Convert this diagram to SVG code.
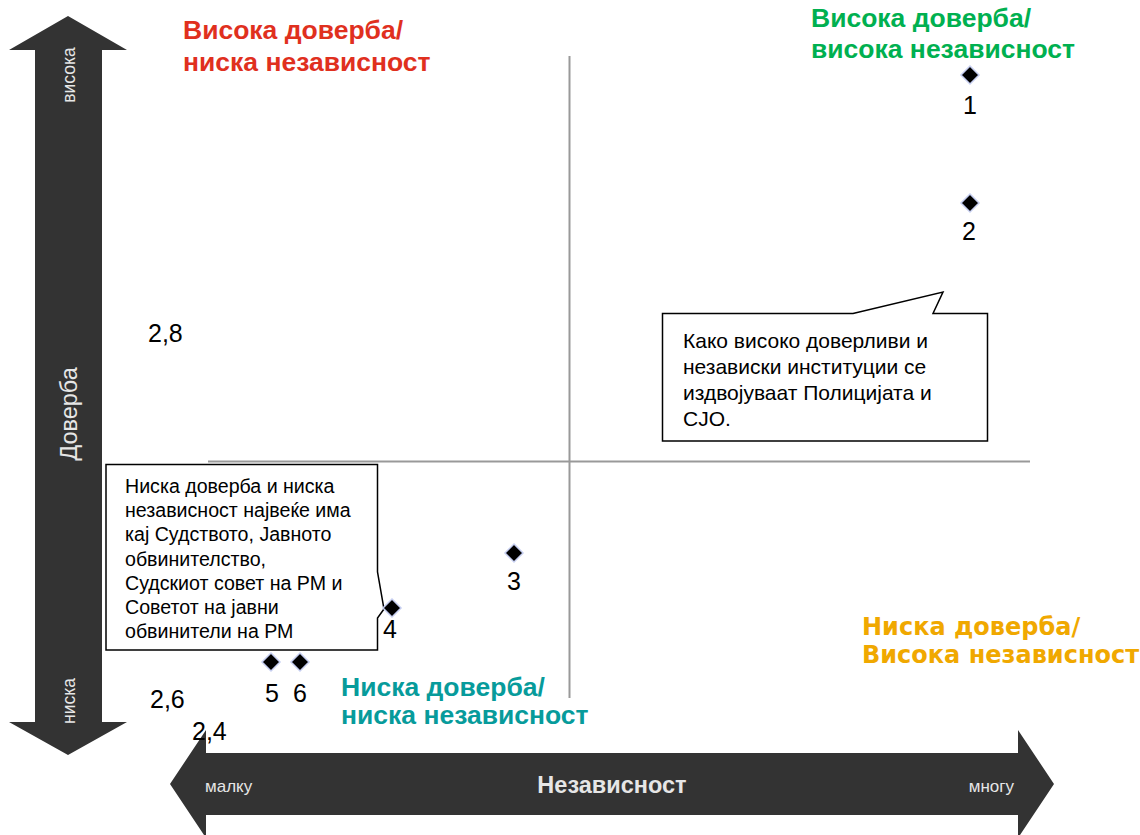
<svg xmlns="http://www.w3.org/2000/svg" width="1140" height="835" viewBox="0 0 1140 835">
<style>
.arrow{fill:#333333}
.axis{font-family:"Liberation Sans",Arial,sans-serif;fill:#e6e6e6}
.q{font-family:"Liberation Sans",Arial,sans-serif;font-weight:bold;font-size:26.5px}
.qo{font-family:"DejaVu Sans",Verdana,sans-serif;font-weight:bold;font-size:24px;fill:#f0a800}
.num{font-family:"Liberation Sans",Arial,sans-serif;font-size:25px;fill:#000}
.pt{fill:#000;stroke:#c6cef0;stroke-width:1.5}
.grid{stroke:#999999;stroke-width:2;fill:none}
.call{fill:#fff;stroke:#000;stroke-width:1.5}
.ct{font-family:"Liberation Sans",Arial,sans-serif;font-size:19.6px;fill:#000}
.ct2{font-family:"Liberation Sans",Arial,sans-serif;font-size:21px;fill:#000}
</style>
<rect width="1140" height="835" fill="#fff"/>
<g id="axis-trust">
<polygon class="arrow" points="68,16 127,50 102,50 102,722 127,722 68,755 9,722 35,722 35,50 9,50"/>
<text class="axis" font-size="17.5" transform="translate(75,75) rotate(-90)" text-anchor="middle">висока</text>
<text class="axis" font-size="23.5" transform="translate(77,414) rotate(-90)" text-anchor="middle">Доверба</text>
<text class="axis" font-size="17.5" transform="translate(75,701) rotate(-90)" text-anchor="middle">ниска</text>
</g>
<g id="axis-independence">
<polygon class="arrow" points="170,784 206,730 206,753 1018,753 1018,730 1054,784 1018,838 1018,815 206,815 206,838"/>
<text class="axis" font-size="17" x="205" y="792">малку</text>
<text class="axis" font-size="23.5" font-weight="bold" x="612" y="793" text-anchor="middle">Независност</text>
<text class="axis" font-size="17" x="1014" y="792" text-anchor="end">многу</text>
</g>
<g id="quadrant-lines">
<line class="grid" x1="569.5" y1="56" x2="569.5" y2="698"/>
<line class="grid" x1="208" y1="461.5" x2="1030" y2="461.5"/>
</g>
<g id="q-high-low">
<text class="q" fill="#e0301e" x="183" y="39">Висока доверба/</text>
<text class="q" fill="#e0301e" x="183" y="71">ниска независност</text>
</g>
<g id="q-high-high">
<text class="q" fill="#00b050" x="811" y="27">Висока доверба/</text>
<text class="q" fill="#00b050" x="811" y="58">висока независност</text>
</g>
<g id="q-low-low">
<text class="q" fill="#079b9b" x="341" y="696">Ниска доверба/</text>
<text class="q" fill="#079b9b" x="341" y="724">ниска независност</text>
</g>
<g id="q-low-high">
<text class="qo" x="862" y="635">Ниска доверба/</text>
<text class="qo" x="862" y="663">Висока независност</text>
</g>
<g id="scale-labels">
<text class="num" font-size="26" x="148" y="342">2,8</text>
<text class="num" font-size="26" x="150" y="708">2,6</text>
<text class="num" font-size="26" x="192" y="740">2,4</text>
</g>
<g id="callout-low">
<path class="call" d="M106,464.5 H377.5 V572 L384,609 L377.5,618 V650 H106 Z"/>
<text class="ct" x="125" y="493">Ниска доверба и ниска</text>
<text class="ct" x="125" y="517">независност највеќе има</text>
<text class="ct" x="125" y="541">кај Судството, Јавното</text>
<text class="ct" x="125" y="566">обвинителство,</text>
<text class="ct" x="125" y="590">Судскиот совет на РМ и</text>
<text class="ct" x="125" y="614">Советот на јавни</text>
<text class="ct" x="125" y="638">обвинители на РМ</text>
</g>
<g id="callout-high">
<path class="call" d="M662.5,313.5 H853 L943,292 L933,313.5 H987.5 V441 H662.5 Z"/>
<text class="ct2" x="683" y="348">Како високо доверливи и</text>
<text class="ct2" x="683" y="374">независки институции се</text>
<text class="ct2" x="683" y="400">издвојуваат Полицијата и</text>
<text class="ct2" x="683" y="426">СЈО.</text>
</g>
<g id="points">
<g id="p1"><polygon class="pt" points="970,66 979,75 970,84 961,75"/><text class="num" x="970" y="114" text-anchor="middle">1</text></g>
<g id="p2"><polygon class="pt" points="970,194 979,203 970,212 961,203"/><text class="num" x="969" y="240" text-anchor="middle">2</text></g>
<g id="p3"><polygon class="pt" points="514,544 523,553 514,562 505,553"/><text class="num" x="514" y="590" text-anchor="middle">3</text></g>
<g id="p4"><polygon class="pt" points="392,599 401,608 392,617 383,608"/><text class="num" x="390" y="638" text-anchor="middle">4</text></g>
<g id="p5"><polygon class="pt" points="271,653 280,662 271,671 262,662"/><text class="num" x="272" y="702" text-anchor="middle">5</text></g>
<g id="p6"><polygon class="pt" points="300,653 309,662 300,671 291,662"/><text class="num" x="300" y="702" text-anchor="middle">6</text></g>
</g>
</svg>
